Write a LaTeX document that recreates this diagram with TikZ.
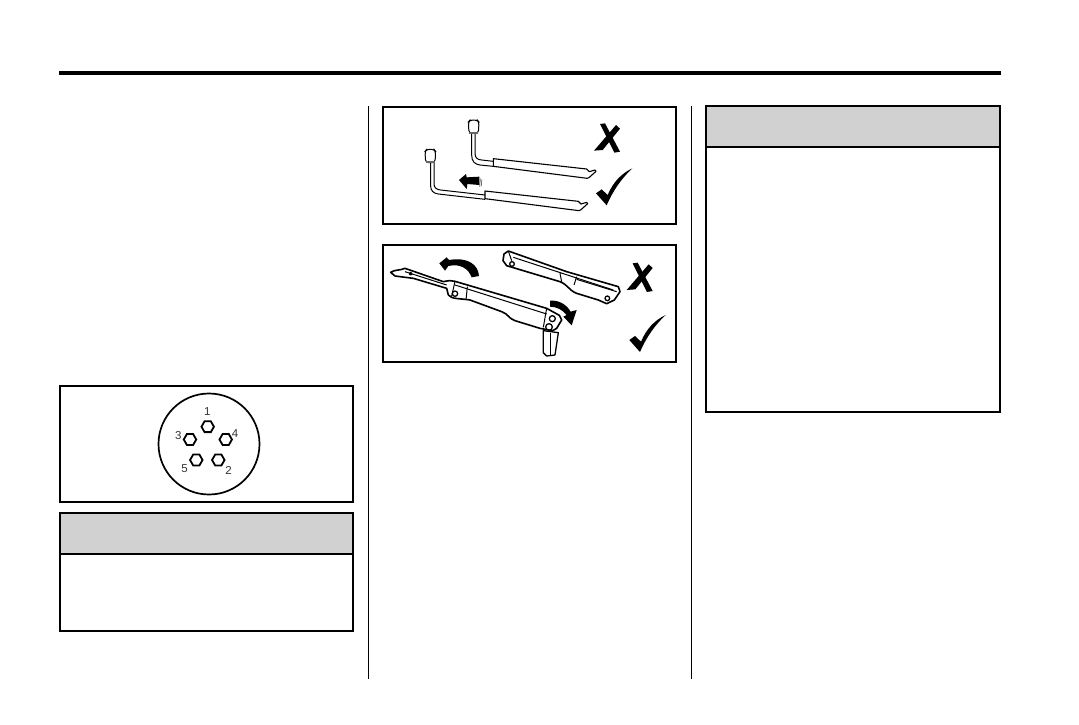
\documentclass[tikz,border=0pt]{standalone}
\usepackage{fontspec}
\setmainfont{Liberation Sans}
\usetikzlibrary{shapes.geometric}
\definecolor{headgray}{HTML}{D1D1D1}
\definecolor{labelgray}{HTML}{333333}
\tikzset{
  framebox/.style = {draw, line width=1.6pt, rectangle, anchor=north west, inner sep=0pt, outer sep=0pt},
  headbox/.style  = {framebox, fill=headgray},
  nutbox/.style   = {draw, line width=1.8pt, regular polygon, regular polygon sides=6, minimum size=12.5pt, inner sep=0pt},
  numlabel/.style = {text=labelgray, font=\fontsize{11.5}{13}\selectfont, inner sep=0pt},
  outline/.style  = {line width=1pt, line join=round},
  crossmark/.pic = {
    \fill (660,72) -- (675,70) -- (720,155) -- (703,158) -- cycle;
    \fill (708,75) -- (720,86) -- (668,150) -- (642,152) -- cycle;
  },
  checkmark/.pic = {
    \fill (648,280) -- (665,268) -- (683,285) .. controls (700,245) and (725,220) .. (757,205)
      .. controls (725,235) and (700,270) .. (680,316) -- cycle;
  },
  wrenchtube/.pic = {
    \draw [outline, line width=1.1pt] (340,176) -- (620,207) -- (628,215) -- (645,210) -- (648,214) -- (628,232) -- (622,235) -- (340,199) -- cycle;
  },
  wrenchcap/.pic = {
    \draw [outline, fill=white, rounded corners=3pt] (265,66) -- (270,60) -- (292,60) -- (297,66) -- (295,100) -- (267,100) -- cycle;
    \fill [black!60] (267,95) rectangle (295,101);
  },
}

\begin{document}
\begin{tikzpicture}[x=1pt, y=-1pt]
    \useasboundingbox (0,0) rectangle (1079,724);
    \coordinate (ruleleft) at (59,73);
    \coordinate (ruleright) at (1001,73);
    \draw [line width=3.8pt] (ruleleft) -- (ruleright);
    \draw [line width=0.9pt] (368,106) -- (368,679);
    \draw [line width=0.9pt] (691,106) -- (691,679);

    % left column
    \node [framebox, minimum width=293pt, minimum height=116pt] (hubframe) at (60,386) {};
    \node [headbox, minimum width=293pt, minimum height=41pt] (cautionhead) at (60,513) {};
    \node [framebox, minimum width=293pt, minimum height=118pt] (cautionframe) at (60,513) {};

    % wheel nuts
    \node [draw, circle, line width=1.7pt, minimum size=101pt, inner sep=0pt] (hub) at (209,444) {};
    \node [nutbox] (nuta) at (207.7,426.7) {};
    \node [nutbox] (nutc) at (190,439.5) {};
    \node [nutbox] (nutd) at (225.7,439.5) {};
    \node [nutbox] (nute) at (196.3,460) {};
    \node [nutbox] (nutb) at (218.3,460) {};
    \node [numlabel] (labela) at (207.3,412) {1};
    \node [numlabel] (labelc) at (178.3,435.5) {3};
    \node [numlabel] (labeld) at (235,433.5) {4};
    \node [numlabel] (labele) at (184.5,469) {5};
    \node [numlabel] (labelb) at (228.5,470) {2};

    % middle column
    \node [framebox, minimum width=293pt, minimum height=117pt] (wrenchframe) at (383,107) {};
    \node [framebox, minimum width=293pt, minimum height=117pt] (leverframe) at (383,245) {};

    % right column
    \node [headbox, minimum width=294pt, minimum height=41pt] (warnhead) at (706,106) {};
    \node [framebox, minimum width=294pt, minimum height=306pt] (warnframe) at (706,106) {};

    % wrench, wrong and right way round
    \begin{scope}[shift={(380,100)}, scale=1/3, transform shape]
        \draw [outline] (275,98) -- (275,165) .. controls (275,185) and (285,193) .. (300,195) -- (340,199);
        \draw [outline] (285,98) -- (285,160) .. controls (285,173) and (292,179) .. (305,180) -- (340,184);
        \pic at (0,0) {wrenchcap};
        \pic at (0,0) {wrenchtube};
        \draw [outline] (152,188) -- (152,258) .. controls (152,272) and (160,280) .. (175,282) -- (315,298);
        \draw [outline] (162,188) -- (162,252) .. controls (162,263) and (170,269) .. (182,270) -- (315,285);
        \pic at (-130,88) {wrenchcap};
        \pic at (-25,97) {wrenchtube};
        \fill (237,240) -- (258,222) -- (260,232) -- (298,230) -- (298,255) -- (262,252) -- (260,267) -- cycle;
        \draw [line width=0.4pt] (301,236) -- (299,260) (306,238) -- (303,260);
        \pic at (0,0) {crossmark};
        \pic at (0,0) {checkmark};
    \end{scope}

    % lever, folded and opened
    \begin{scope}[shift={(380,240)}, scale=1/3, transform shape]
        \draw [outline, line width=1.3pt, fill=white] (490,272) -- (490,338) -- (500,348) -- (525,345) -- (535,278) -- cycle;
        \draw [outline] (512,280) -- (512,345);
        \draw [outline, line width=1.6pt, fill=white] (32,97) .. controls (45,88) and (60,92) .. (75,85) -- (190,125)
          .. controls (205,122) and (215,120) .. (225,124) -- (500,205) -- (538,226) -- (545,240) -- (530,265) -- (518,272)
          -- (480,265) -- (405,242) .. controls (385,235) and (385,222) .. (365,215) -- (270,180)
          .. controls (240,175) and (215,178) .. (205,165) -- (200,145) -- (100,115) -- (45,108) -- cycle;
        \draw [outline] (75,95) -- (200,135) (225,124) -- (215,168) (262,140) -- (258,180);
        \draw [outline] (225,135) -- (500,222) (500,205) -- (490,262);
        \draw [outline, line width=1.3pt] (225,161) circle (8) (92,101) circle (4) (507,261) circle (10) (517,236) circle (9);
        \draw [outline, line width=1.6pt, fill=white] (372,42) -- (385,33) -- (560,95) -- (715,140) -- (720,155) -- (703,180)
          -- (680,191) -- (655,180) -- (590,160) .. controls (565,150) and (565,135) .. (540,125) -- (380,77) -- (369,62) -- cycle;
        \draw [outline] (385,33) -- (395,62) (400,52) -- (700,150) (540,100) -- (545,125) (590,110) -- (582,135);
        \draw [outline] (590,118) -- (710,155);
        \draw [outline, line width=1.3pt] (396,72) circle (7) (682,175) circle (7);
        \fill (297,108) .. controls (295,75) and (265,50) .. (207,60) -- (200,52) -- (178,70) -- (195,92) -- (205,78)
          .. controls (240,70) and (265,85) .. (275,112) -- cycle;
        \fill (510,182) .. controls (540,180) and (560,195) .. (572,215) -- (590,210) -- (575,256) -- (550,230) -- (560,225)
          .. controls (548,210) and (530,200) .. (510,200) -- cycle;
        \pic at (98,-2) {crossmark};
        \pic at (100,20) {checkmark};
    \end{scope}
\end{tikzpicture}
\end{document}
